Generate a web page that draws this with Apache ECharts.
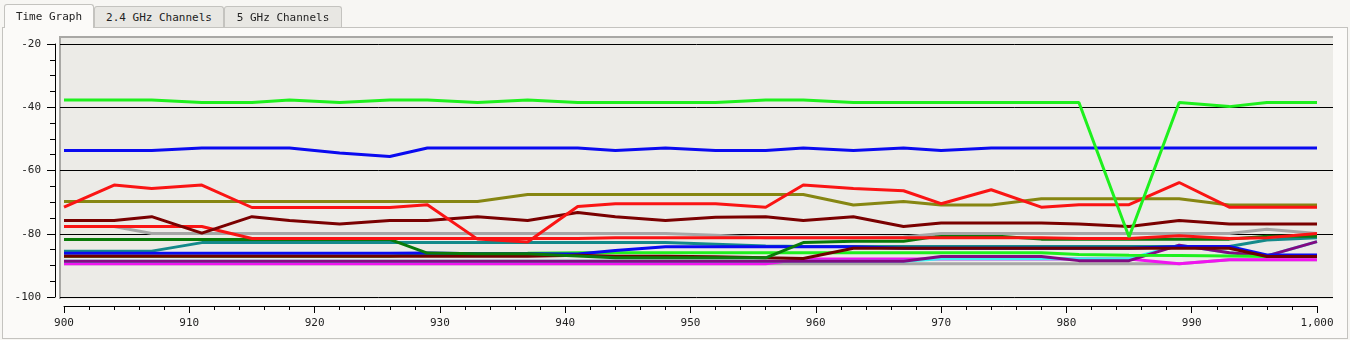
<!DOCTYPE html>
<html>
<head>
<meta charset="utf-8">
<script src="https://cdn.jsdelivr.net/npm/echarts@6/dist/echarts.min.js"></script>
<style>
  html, body { margin: 0; padding: 0; background: #f7f6f3; }
  #wrap { position: relative; width: 1350px; height: 340px; overflow: hidden; background: #f7f6f3; }
  #panel { position: absolute; left: 2px; top: 27px; width: 1344px; height: 310px; border: 1px solid #c4c3bf; background: #fbfaf8; }
  .tab { position: absolute; box-sizing: border-box; border: 1px solid #c4c3bf; border-bottom: none; border-radius: 3px 3px 0 0;
         font-family: "DejaVu Sans Mono", monospace; font-size: 11px; color: #222; text-align: center; }
  #t1 { left: 4px; top: 4px; width: 90px; height: 24px; line-height: 24px; background: #fbfaf8; z-index: 3; }
  #t2 { left: 94px; top: 6px; width: 130px; height: 21px; line-height: 21px; background: #e8e7e3; z-index: 2; }
  #t3 { left: 224px; top: 6px; width: 118px; height: 21px; line-height: 21px; background: #e8e7e3; z-index: 2; }
  #chart { position: absolute; left: 0; top: 0; width: 1350px; height: 340px; z-index: 1; }
</style>
</head>
<body>
<div id="wrap">
  <div id="panel"></div>
  <div id="chart"></div>
  <div class="tab" id="t1">Time Graph</div>
  <div class="tab" id="t2">2.4 GHz Channels</div>
  <div class="tab" id="t3">5 GHz Channels</div>
</div>
<script>
// ---- data ----
const times = [900, 904, 907, 911, 915, 918, 922, 926, 929, 933, 937, 941, 944, 948, 952, 956, 959, 963, 967, 970, 974, 978, 981, 985, 989, 993, 996, 1000];

const grayLow  = [-89.5,-89.5,-89.5,-89.5,-89.5,-89.5,-89.5,-89.5,-89.5,-89.5,-89.5,-89.5,-89.5,-89.5,-89.5,-89.5,-89.5,-89.5,-89.5,-89.5,-89.5,-89.5,-89.5,-89.5,-89.5,-88.2,-88.2,-88.2];
const magenta  = [-89.5,-89.5,-89.5,-89.5,-89.5,-89.5,-89.5,-89.5,-89.5,-89.5,-89.5,-89.5,-89.5,-89.5,-89.5,-89.5,-88.0,-88.0,-88.0,-88.0,-88.0,-88.0,-88.0,-88.0,-89.5,-88.2,-88.2,-88.2];
const cyan     = [-88.7,-88.7,-88.7,-88.7,-88.7,-88.7,-88.7,-88.7,-88.7,-88.7,-88.7,-88.7,-88.7,-88.7,-88.7,-88.7,-88.7,-88.7,-88.7,-87.9,-87.9,-87.9,-87.9,-87.9,-83.6,-86.0,-87.0,-82.5];
const purple   = [-88.7,-88.7,-88.7,-88.7,-88.7,-88.7,-88.7,-88.7,-88.7,-88.7,-88.7,-88.7,-88.7,-88.7,-88.7,-88.7,-88.7,-88.7,-88.7,-87.2,-87.2,-87.2,-88.5,-88.5,-83.6,-86.0,-87.0,-82.5];
const limeLow  = [-87.1,-87.1,-87.1,-87.1,-87.1,-87.1,-87.1,-87.1,-86.3,-86.3,-86.2,-86.0,-86.0,-86.0,-86.0,-86.0,-86.0,-86.0,-86.0,-86.0,-86.0,-86.0,-86.6,-86.8,-86.9,-87.0,-87.2,-87.2];
const teal     = [-85.5,-85.5,-85.5,-82.8,-82.8,-82.8,-82.8,-82.8,-82.8,-82.8,-82.8,-82.8,-82.8,-82.8,-83.3,-83.9,-84.0,-84.0,-84.0,-84.0,-84.0,-84.0,-84.0,-84.0,-84.0,-84.0,-82.0,-81.3];
const blueLow  = [-86.2,-86.2,-86.2,-86.2,-86.2,-86.2,-86.2,-86.2,-86.1,-86.3,-86.3,-86.4,-85.3,-84.1,-84.1,-84.1,-84.1,-84.1,-84.6,-84.6,-84.6,-84.6,-84.6,-84.6,-84.0,-84.0,-86.7,-86.7];
const maroonLow= [-87.1,-87.1,-87.1,-87.1,-87.1,-87.1,-87.1,-87.1,-87.1,-87.1,-87.1,-86.8,-87.1,-87.1,-87.3,-87.6,-87.8,-84.6,-84.6,-84.6,-84.6,-84.6,-84.6,-84.6,-84.6,-84.6,-87.2,-87.2];
const darkGreen= [-81.8,-81.8,-81.8,-81.8,-81.8,-81.8,-81.8,-81.8,-86.1,-86.3,-86.3,-87.0,-87.6,-87.6,-87.6,-87.6,-82.8,-82.4,-82.4,-80.6,-80.6,-81.7,-81.7,-81.7,-81.7,-81.7,-80.8,-80.8];
const grayUp   = [-77.7,-77.7,-79.9,-79.9,-79.9,-79.9,-79.9,-79.9,-79.9,-79.9,-79.9,-79.9,-79.9,-79.9,-80.5,-81.3,-81.3,-81.3,-81.0,-79.9,-79.9,-79.9,-79.9,-79.9,-79.9,-79.9,-78.6,-79.9];
const red2     = [-77.7,-77.7,-77.7,-77.7,-81.5,-81.5,-81.5,-81.5,-81.5,-81.5,-81.5,-81.5,-81.3,-81.3,-81.3,-81.3,-81.3,-81.3,-81.3,-81.3,-81.3,-81.3,-81.5,-81.5,-80.6,-81.5,-81.3,-79.9];
const maroon   = [-75.8,-75.8,-74.6,-79.8,-74.6,-75.8,-76.9,-75.8,-75.8,-74.6,-75.8,-73.3,-74.6,-75.8,-74.8,-74.6,-75.8,-74.6,-77.7,-76.6,-76.6,-76.6,-76.9,-77.7,-75.8,-76.9,-76.9,-76.9];
const olive    = [-69.8,-69.8,-69.8,-69.8,-69.8,-69.8,-69.8,-69.8,-69.8,-69.8,-67.6,-67.6,-67.6,-67.6,-67.6,-67.6,-67.6,-70.9,-69.8,-70.9,-70.9,-68.9,-68.9,-68.9,-68.9,-70.9,-70.9,-70.9];
const red1     = [-71.6,-64.6,-65.7,-64.6,-71.7,-71.7,-71.7,-71.7,-70.8,-81.7,-82.6,-71.4,-70.5,-70.5,-70.5,-71.6,-64.6,-65.7,-66.4,-70.5,-66.1,-71.6,-70.8,-70.8,-63.8,-71.6,-71.6,-71.6];
const blueTop  = [-53.7,-53.7,-53.7,-52.9,-52.9,-52.9,-54.5,-55.6,-52.9,-52.9,-52.9,-52.9,-53.7,-52.9,-53.7,-53.7,-52.9,-53.7,-52.9,-53.7,-52.9,-52.9,-52.9,-52.9,-52.9,-52.9,-52.9,-52.9];
const limeTop  = [-37.7,-37.7,-37.7,-38.5,-38.5,-37.7,-38.5,-37.7,-37.7,-38.5,-37.7,-38.5,-38.5,-38.5,-38.5,-37.7,-37.7,-38.5,-38.5,-38.5,-38.5,-38.5,-38.5,-81.0,-38.5,-39.8,-38.5,-38.5];

const yTicks = { min: -100, max: -20, step: 20 };
const xTicks = { min: 900, max: 1000, step: 10 };

// drawing order: first = bottom
const seriesDefs = [
  ['grayLow', grayLow, '#a6a6a6'],
  ['magenta', magenta, '#f014f0'],
  ['cyan', cyan, '#3cf0f0'],
  ['purple', purple, '#820a82'],
  ['limeLow', limeLow, '#1ef01e'],
  ['teal', teal, '#148a8a'],
  ['blueLow', blueLow, '#0a0af0'],
  ['maroonLow', maroonLow, '#6e0000'],
  ['darkGreen', darkGreen, '#0a7a0a'],
  ['grayUp', grayUp, '#a6a6a6'],
  ['red2', red2, '#fa1414'],
  ['maroon', maroon, '#7a0000'],
  ['olive', olive, '#868612'],
  ['red1', red1, '#fa1414'],
  ['blueTop', blueTop, '#0a0af0'],
  ['limeTop', limeTop, '#1ef01e']
];

const FONT = '"DejaVu Sans Mono", monospace';
const chart = echarts.init(document.getElementById('chart'), null, { renderer: 'canvas' });

chart.setOption({
  animation: false,
  backgroundColor: 'transparent',
  graphic: [
    { type: 'rect', z: -10, shape: { x: 60, y: 37, width: 1273, height: 262 }, style: { fill: '#ecebe7' } },
    { type: 'rect', z: -9, shape: { x: 59, y: 36, width: 2, height: 263 }, style: { fill: '#a9a8a5' } },
    { type: 'rect', z: -9, shape: { x: 59, y: 36, width: 1274, height: 2 }, style: { fill: '#a9a8a5' } }
  ],
  grid: [
    { left: 64, right: 33, top: 44, bottom: 43 },
    { left: 60, right: 17, top: 44, bottom: 43 }
  ],
  xAxis: [
    {
      gridIndex: 0, type: 'value', min: xTicks.min, max: xTicks.max, interval: xTicks.step,
      position: 'bottom', offset: 9,
      axisLine: { show: true, lineStyle: { color: '#000', width: 1 } },
      axisTick: { show: true, length: 7, lineStyle: { color: '#000' } },
      minorTick: { show: true, splitNumber: 5, length: 4, lineStyle: { color: '#000' } },
      splitLine: { show: false },
      axisLabel: { fontFamily: FONT, fontSize: 11, color: '#222', margin: 12 }
    },
    { gridIndex: 1, type: 'value', min: 0, max: 1, show: false }
  ],
  yAxis: [
    {
      gridIndex: 0, type: 'value', min: yTicks.min, max: yTicks.max, interval: yTicks.step,
      position: 'left', offset: 9,
      axisLine: { show: true, lineStyle: { color: '#000', width: 1 } },
      axisTick: { show: true, length: 8, lineStyle: { color: '#000' } },
      minorTick: { show: true, splitNumber: 4, length: 5, lineStyle: { color: '#000' } },
      splitLine: { show: false },
      axisLabel: { fontFamily: FONT, fontSize: 11, color: '#222', margin: 14 }
    },
    {
      gridIndex: 1, type: 'value', min: yTicks.min, max: yTicks.max, interval: yTicks.step,
      axisLine: { show: false }, axisTick: { show: false }, axisLabel: { show: false },
      splitLine: { show: true, lineStyle: { color: '#000', width: 1 } }
    }
  ],
  series: seriesDefs.map(([name, vals, color]) => ({
    name, type: 'line', xAxisIndex: 0, yAxisIndex: 0,
    data: times.map((t, i) => [t, vals[i]]),
    symbol: 'none', smooth: false,
    lineStyle: { color, width: 3 },
    itemStyle: { color },
    emphasis: { disabled: true }
  }))
});
</script>
</body>
</html>
